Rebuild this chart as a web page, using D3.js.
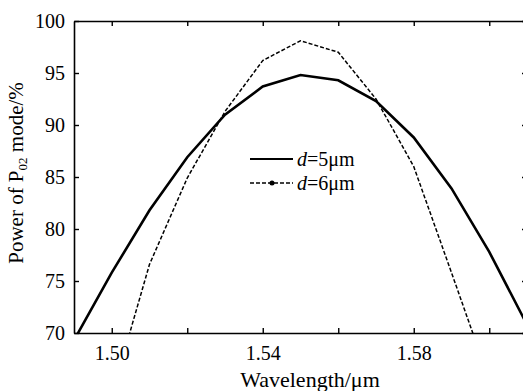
<!DOCTYPE html>
<html>
<head>
<meta charset="utf-8">
<script src="https://cdn.jsdelivr.net/npm/d3@7/dist/d3.min.js"></script>
</head>
<body style="margin:0;font-family:'Liberation Serif',serif">
<div id="chart"></div>
<script>
// data
const wavelength = [1.49, 1.50, 1.51, 1.52, 1.53, 1.54, 1.55, 1.56, 1.57, 1.58, 1.59, 1.60, 1.61];
const power5 = [69.3, 75.8, 81.8, 86.9, 91.0, 93.7, 94.8, 94.3, 92.3, 88.8, 83.9, 77.8, 70.8];
const power6 = [52.0, 64.0, 76.6, 84.9, 91.3, 96.2, 98.1, 97.0, 92.5, 86.0, 75.8, 65.5, 52.0];
const xTicks = [1.50, 1.52, 1.54, 1.56, 1.58, 1.60];
const xLabels = [1.50, 1.54, 1.58];
const yTicks = [70, 75, 80, 85, 90, 95, 100];

const width = 523, height = 391;
const margin = { top: 21, right: -4, bottom: 58, left: 74 };
const serif = "'Liberation Serif', serif";

const svg = d3.select('#chart').append('svg')
  .attr('width', width)
  .attr('height', height)
  .style('display', 'block');

const x = d3.scaleLinear().domain([1.49, 1.61]).range([margin.left, width - margin.right]);
const y = d3.scaleLinear().domain([70, 100]).range([height - margin.bottom, margin.top]);

svg.append('defs').append('clipPath').attr('id', 'plot-clip')
  .append('rect')
  .attr('x', x(1.49)).attr('y', y(100))
  .attr('width', x(1.61) - x(1.49)).attr('height', y(70) - y(100));

const line = d3.line().x((d, i) => x(wavelength[i])).y(d => y(d));

const plot = svg.append('g').attr('clip-path', 'url(#plot-clip)');

plot.append('path')
  .datum(power6)
  .attr('d', line)
  .attr('fill', 'none')
  .attr('stroke', '#000')
  .attr('stroke-width', 1.5)
  .attr('stroke-dasharray', '4,2');

plot.append('path')
  .datum(power5)
  .attr('d', line)
  .attr('fill', 'none')
  .attr('stroke', '#000')
  .attr('stroke-width', 2.6);

// axes, ticks inward
const tickLen = 5;
const axisStyle = g => {
  g.attr('font-family', null).attr('font-size', null);
  g.select('.domain').attr('stroke-width', 1.6);
  g.selectAll('.tick line').attr('stroke-width', 1.4);
  g.selectAll('.tick text')
    .style('font-family', serif)
    .style('font-size', '20px')
    .attr('fill', '#000');
};

svg.append('g')
  .attr('transform', `translate(0,${y(70)})`)
  .call(d3.axisBottom(x).tickValues(xTicks).tickSizeInner(-tickLen).tickSizeOuter(0).tickPadding(13)
    .tickFormat(d => xLabels.some(v => Math.abs(v - d) < 1e-9) ? d3.format('.2f')(d) : ''))
  .call(axisStyle);

svg.append('g')
  .attr('transform', `translate(0,${y(100)})`)
  .call(d3.axisTop(x).tickValues(xTicks).tickSizeInner(-tickLen).tickSizeOuter(0).tickFormat(''))
  .call(axisStyle);

svg.append('g')
  .attr('transform', `translate(${x(1.49)},0)`)
  .call(d3.axisLeft(y).tickValues(yTicks).tickSizeInner(-tickLen).tickSizeOuter(0).tickPadding(9))
  .call(axisStyle);

svg.append('g')
  .attr('transform', `translate(${x(1.61)},0)`)
  .call(d3.axisRight(y).tickValues(yTicks).tickSizeInner(-tickLen).tickSizeOuter(0).tickFormat(''))
  .call(axisStyle);

// axis titles
svg.append('text')
  .attr('x', 310)
  .attr('y', 387)
  .attr('text-anchor', 'middle')
  .style('font-family', serif)
  .style('font-size', '22px')
  .text('Wavelength/\u03bcm');

const yTitle = svg.append('text')
  .attr('transform', 'translate(23,173) rotate(-90)')
  .attr('text-anchor', 'middle')
  .style('font-family', serif)
  .style('font-size', '21px');
yTitle.append('tspan').text('Power of P');
yTitle.append('tspan').style('font-size', '13px').attr('dy', 4).text('02');
yTitle.append('tspan').attr('dy', -4).text(' mode/%');

// legend
const legend = svg.append('g');
const legendRows = [
  { label: '5\u03bcm', dash: null, width: 2.2, dot: false, yPos: 159 },
  { label: '6\u03bcm', dash: '4,2', width: 1.4, dot: true, yPos: 183 }
];
legendRows.forEach(r => {
  legend.append('line')
    .attr('x1', 250).attr('x2', 293)
    .attr('y1', r.yPos).attr('y2', r.yPos)
    .attr('stroke', '#000')
    .attr('stroke-width', r.width)
    .attr('stroke-dasharray', r.dash);
  if (r.dot) {
    legend.append('circle').attr('cx', 272).attr('cy', r.yPos).attr('r', 2.5).attr('fill', '#000');
  }
  const t = legend.append('text')
    .attr('x', 297).attr('y', r.yPos + 7)
    .style('font-family', serif)
    .style('font-size', '20px');
  t.append('tspan').attr('font-style', 'italic').text('d');
  t.append('tspan').text('=' + r.label);
});
</script>
</body>
</html>
